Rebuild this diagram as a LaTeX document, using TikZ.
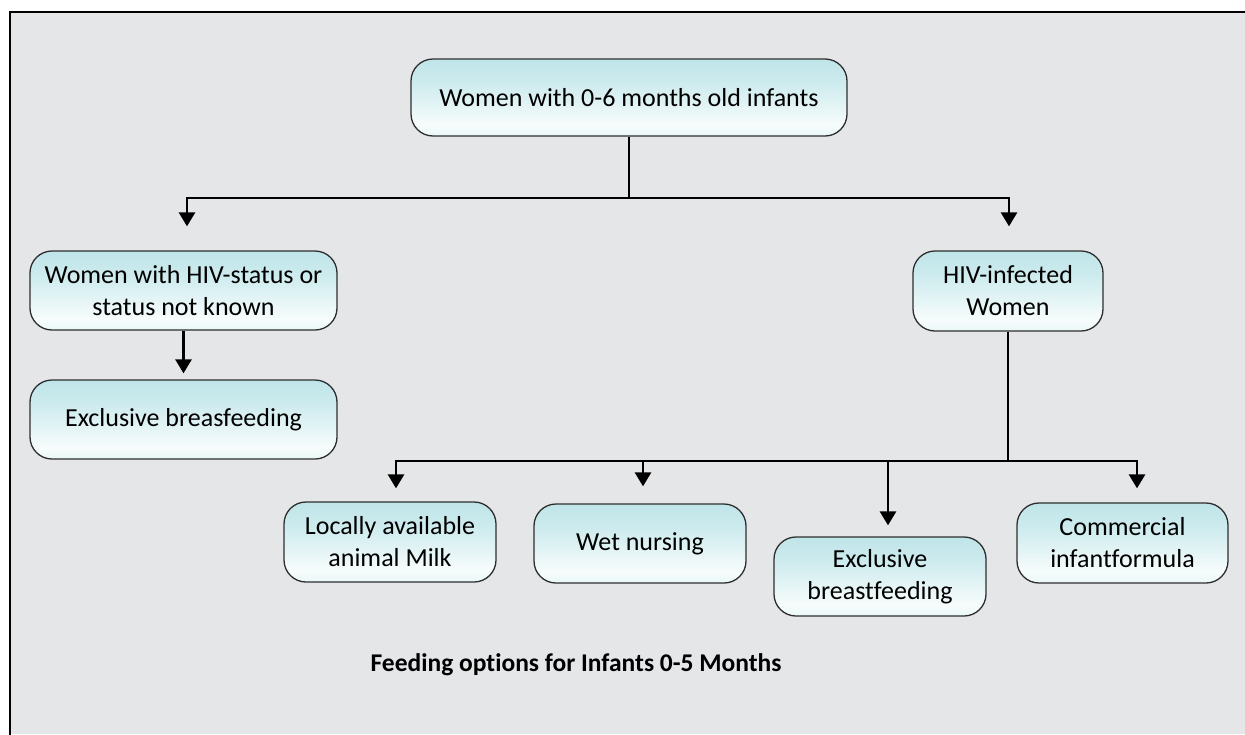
\documentclass[tikz,border=0pt]{standalone}
\usepackage{fontspec}
\setmainfont[Ligatures=NoCommon]{Carlito}
\usetikzlibrary{arrows.meta,shapes.misc}
\definecolor{bgray}{HTML}{E5E6E8}
\definecolor{tealc}{HTML}{A8DADF}
\definecolor{tealm}{HTML}{CDEBEE}
\definecolor{whitc}{HTML}{F7FCFC}
\definecolor{edgec}{HTML}{2E2E2E}
\pgfdeclareverticalshading{boxshade}{100bp}{color(0bp)=(tealc); color(10bp)=(tealm); color(32bp)=(whitc); color(60bp)=(tealm); color(100bp)=(tealc)}
\tikzset{
  optbox/.style={draw=edgec, line width=1.3pt, rounded corners=22pt, shading=boxshade,
    align=center, inner sep=2pt, font=\fontsize{26}{32}\selectfont, text=black},
  conn/.style={line width=2.8pt, draw=black},
  arr/.style={conn, -{Triangle[width=16pt,length=14pt]}},
}
\begin{document}
\begin{tikzpicture}[x=1pt,y=-1pt]
\useasboundingbox (0,0) rectangle (1245,734);
\fill[white] (0,0) rectangle (1245,734);
\fill[bgray] (10,12) rectangle (1245,734);
\draw[line width=2.6pt, black] (10,740) -- (10,12) -- (1250,12);

\node[optbox, minimum width=436pt, minimum height=77pt] (top) at (629,97.5) {Women with 0-6 months old infants};
\node[optbox, minimum width=307pt, minimum height=79pt] (w1) at (183.5,290.5) {Women with HIV-status or\\status not known};
\node[optbox, minimum width=307pt, minimum height=79pt] (w2) at (183.5,419.5) {Exclusive breasfeeding};
\node[optbox, minimum width=190pt, minimum height=80pt] (hiv) at (1008,291) {HIV-infected\\Women};
\node[optbox, minimum width=212pt, minimum height=80pt] (loc) at (390,542) {Locally available\\animal Milk};
\node[optbox, minimum width=212pt, minimum height=79pt] (wet) at (640,543.5) {Wet nursing};
\node[optbox, minimum width=212pt, minimum height=79pt] (exc) at (880,576.5) {Exclusive\\breastfeeding};
\node[optbox, minimum width=211pt, minimum height=80pt] (com) at (1122.5,543) {Commercial\\infantformula};
\node[font=\fontsize{25.5}{30}\selectfont\bfseries] (title) at (576,665) {Feeding options for Infants 0-5 Months};

\coordinate (j1) at (629,198);
\coordinate (j2) at (1008,461);

\draw[conn] (top.south) -- (j1);
\draw[arr, shorten >=24pt] (j1) -| ([xshift=3.5pt]w1.north);
\draw[arr, shorten >=24pt] (j1) -| ([xshift=1pt]hiv.north);
\draw[arr, shorten >=6pt] (w1.south) -- (w2.north);
\draw[conn] (hiv.south) -- (j2);
\draw[arr, shorten >=13pt] (j2) -| ([xshift=6pt]loc.north);
\draw[arr, shorten >=17pt] (j2) -| ([xshift=3pt]wet.north);
\draw[arr, shorten >=11pt] (j2) -| ([xshift=8pt]exc.north);
\draw[arr, shorten >=14pt] (j2) -| ([xshift=14.5pt]com.north);
\end{tikzpicture}
\end{document}
